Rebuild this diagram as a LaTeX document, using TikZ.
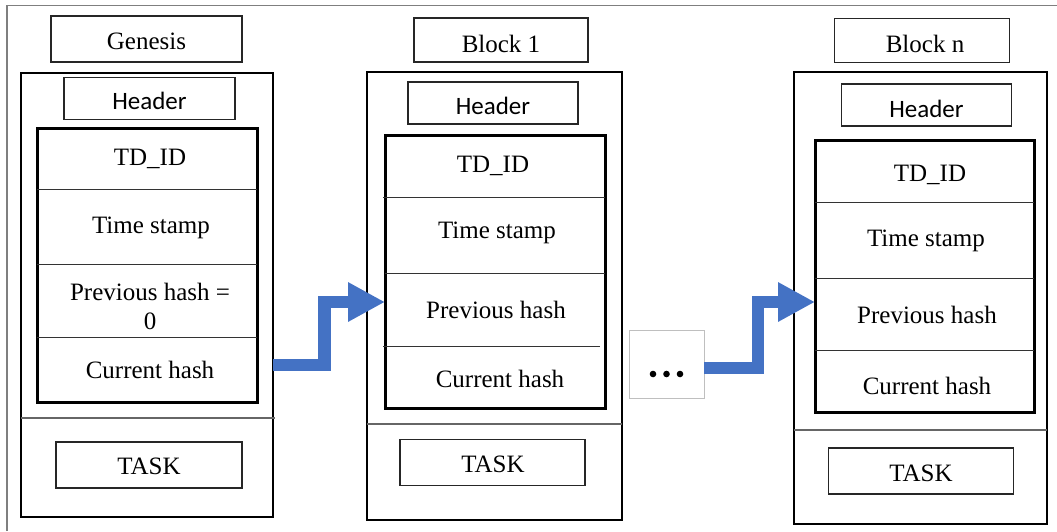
\documentclass[tikz,border=0pt]{standalone}
\usepackage{fontspec}
\setmainfont{Liberation Serif}
\newfontfamily\hdrfont{Carlito}
\usetikzlibrary{arrows.meta}
\definecolor{arrowblue}{HTML}{4472C4}
\definecolor{framegray}{HTML}{7F7F7F}
\tikzset{
  x=1pt, y=-1pt,
  txt/.style={font=\fontsize{25}{29}\selectfont, inner sep=0pt, align=center},
  hdr/.style={font=\hdrfont\fontsize{25}{29}\selectfont, inner sep=0pt},
  labelbox/.style={draw=black!85, line width=1.3pt, inner sep=0pt, outer sep=0pt},
  blockbox/.style={draw=black, line width=2.6pt, inner sep=0pt, outer sep=0pt},
  innerbox/.style={draw=black, line width=3pt, inner sep=0pt, outer sep=0pt},
  divider/.style={draw=black!80, line width=1pt},
  sepline/.style={draw=black!60, line width=1.4pt},
  flow/.style={draw=arrowblue, line width=12.5pt, line join=miter,
    -{Triangle[length=37pt, width=37pt]}},
}
\begin{document}
\begin{tikzpicture}
\useasboundingbox (0,0) rectangle (1057,531);
% page frame (left and top edges)
\draw[framegray, line width=1.5pt] (7,531) -- (7,5.5) -- (1057,5.5);

% ================= Genesis =================
\node[labelbox, minimum width=191pt, minimum height=46pt] (g-title) at (146.5,39) {};
\node[txt] (g-title-t) at (146.5,41) {Genesis};
\node[blockbox, minimum width=252pt, minimum height=444pt] (g-outer) at (147,295) {};
\node[labelbox, minimum width=171pt, minimum height=42pt] (g-header) at (149.5,98.5) {};
\node[hdr] (g-header-t) at (149.5,101) {Header};
\node[innerbox, minimum width=220pt, minimum height=274pt] (g-inner) at (147.5,265) {};
\draw[divider] (37,189) -- (257,189);
\draw[divider] (37,264) -- (257,264);
\draw[divider] (37,337) -- (257,337);
\draw[sepline] (21,418) -- (275,418);
\node[labelbox, minimum width=186pt, minimum height=46pt] (g-task) at (149,465) {};
\node[txt] (g-task-t) at (149,466) {TASK};
\node[txt] (g-tdid) at (150,159) {TD\_ID};
\node[txt] (g-time) at (151,228) {Time stamp};
\node[txt] (g-prev) at (150,306) {Previous hash =\\0};
\node[txt] (g-curr) at (150,370) {Current hash};

% ================= Block 1 =================
\node[labelbox, minimum width=174pt, minimum height=44pt] (b1-title) at (501,40) {};
\node[txt] (b1-title-t) at (501,44) {Block 1};
\node[blockbox, minimum width=255pt, minimum height=448pt] (b1-outer) at (494.5,296) {};
\node[labelbox, minimum width=170pt, minimum height=42pt] (b1-header) at (493,103) {};
\node[hdr] (b1-header-t) at (493,106) {Header};
\node[innerbox, minimum width=220pt, minimum height=273pt] (b1-inner) at (495,271.5) {};
\draw[divider] (383,197) -- (605,197);
\draw[divider] (385,273) -- (605,273);
\draw[divider] (383,346) -- (600,346);
\draw[sepline] (367,424) -- (622,424);
\node[labelbox, minimum width=185pt, minimum height=46pt] (b1-task) at (492.5,462.5) {};
\node[txt] (b1-task-t) at (493,464) {TASK};
\node[txt] (b1-tdid) at (493,166) {TD\_ID};
\node[txt] (b1-time) at (497,233) {Time stamp};
\node[txt] (b1-prev) at (496,310) {Previous hash};
\node[txt] (b1-curr) at (500,379) {Current hash};

% ================= Block n =================
\node[labelbox, minimum width=175pt, minimum height=44pt] (bn-title) at (922,40.5) {};
\node[txt] (bn-title-t) at (925,44) {Block n};
\node[blockbox, minimum width=253pt, minimum height=452pt] (bn-outer) at (920.5,298) {};
\node[labelbox, minimum width=170pt, minimum height=42pt] (bn-header) at (926.5,105) {};
\node[hdr] (bn-header-t) at (926.5,109) {Header};
\node[innerbox, minimum width=219pt, minimum height=272pt] (bn-inner) at (924.5,276) {};
\draw[divider] (815,202) -- (1034,202);
\draw[divider] (815,278) -- (1034,278);
\draw[divider] (815,350) -- (1034,350);
\draw[sepline] (794,430) -- (1047,430);
\node[labelbox, minimum width=185pt, minimum height=46pt] (bn-task) at (921,471) {};
\node[txt] (bn-task-t) at (921,473) {TASK};
\node[txt] (bn-tdid) at (930,175) {TD\_ID};
\node[txt] (bn-time) at (926,241) {Time stamp};
\node[txt] (bn-prev) at (927,315) {Previous hash};
\node[txt] (bn-curr) at (927,386) {Current hash};

% ================= dots =================
\node[draw=black!25, line width=0.8pt, minimum width=75pt, minimum height=68pt, inner sep=0pt] (dots) at (666.5,364) {};
\fill (dots.center) ++(-13.5,10) circle (3.3pt);
\fill (dots.center) ++(0,10) circle (3.3pt);
\fill (dots.center) ++(13.5,10) circle (3.3pt);

% ================= arrows =================
\coordinate (a1s) at (g-outer.east |- 0,365);
\coordinate (a1e) at (b1-inner.west |- 0,302);
\draw[flow] (a1s) -- (324.5,365) -- (324.5,302) -- (a1e);
\coordinate (a2s) at (dots.east |- 0,368);
\coordinate (a2e) at (bn-inner.west |- 0,302);
\draw[flow] (a2s) -- (758,368) -- (758,302) -- (a2e);
\end{tikzpicture}
\end{document}
